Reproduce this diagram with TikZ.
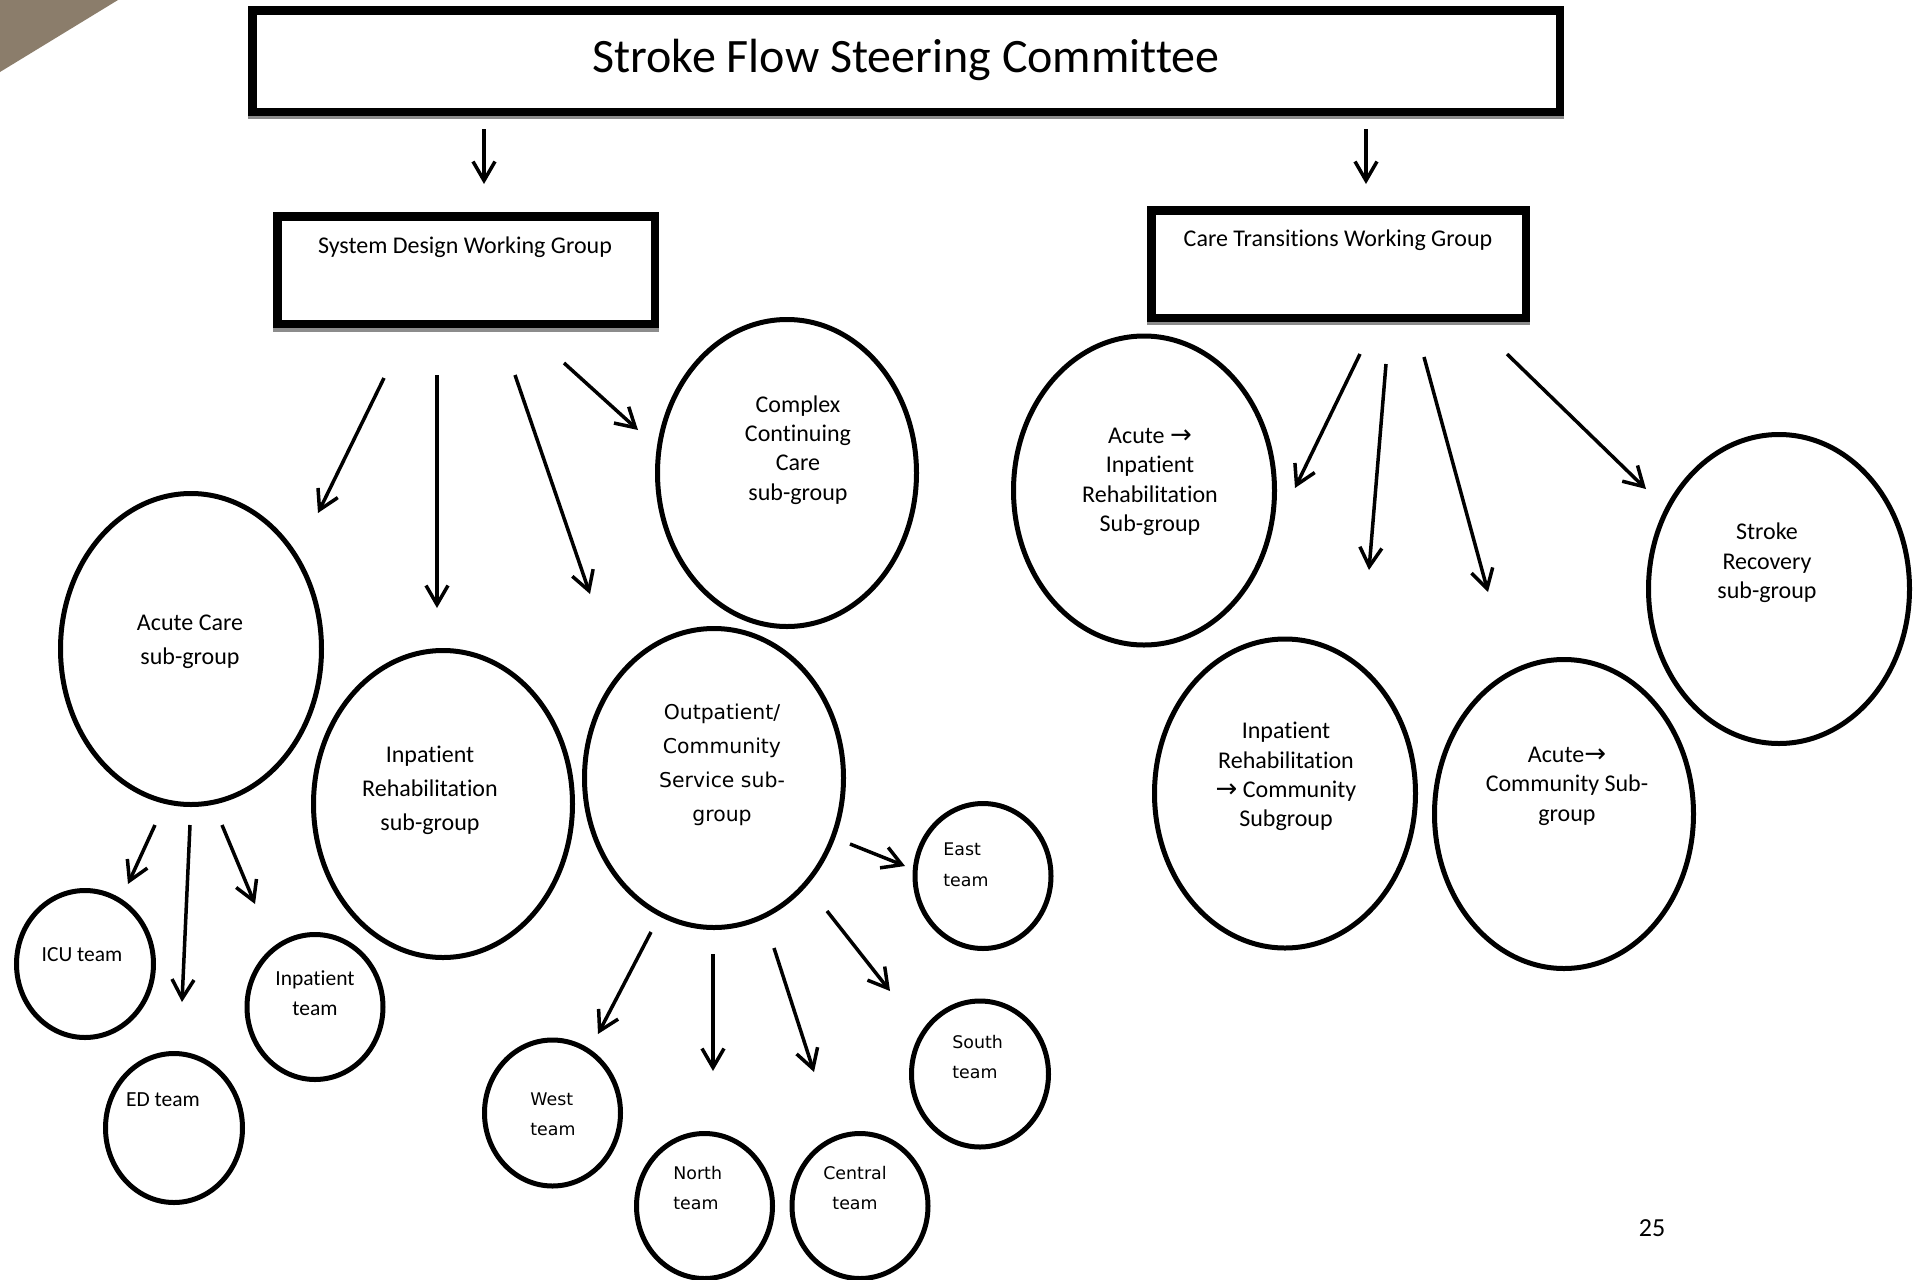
\documentclass[tikz,border=0pt]{standalone}
\usepackage{fontspec}
\setmainfont{Carlito}[Ligatures={NoCommon}]
\newfontfamily\verd{DejaVu Sans}
\usetikzlibrary{shapes.geometric,arrows.meta}
\begin{document}
\begin{tikzpicture}[x=0.5pt,y=-0.5pt,
  oval/.style 2 args={ellipse,draw,line width=2.5pt,inner sep=0pt,minimum width=#1pt,minimum height=#2pt},
  bigbox/.style 2 args={rectangle,draw,line width=4.25pt,inner sep=0pt,minimum width=#1pt,minimum height=#2pt},
  band/.style={fill=black!45,draw=none},
  lbl/.style={inner sep=0pt,yshift=-1.25pt,font=\fontsize{12}{14.7}\selectfont,align=center},
  lblwide/.style={inner sep=0pt,yshift=-1.25pt,font=\fontsize{12}{17}\selectfont,align=center},
  verdlbl/.style={inner sep=0pt,yshift=-1.25pt,font=\verd\fontsize{10.2}{17}\selectfont,align=center},
  teamlbl/.style={inner sep=0pt,yshift=-0.6pt,font=\fontsize{10.75}{15}\selectfont,align=center},
  vteam/.style={inner sep=0pt,yshift=-0.6pt,font=\verd\fontsize{8.7}{15.2}\selectfont,align=left},
  arrowglyph/.style={},
  arr/.style={line width=1.75pt,-{Straight Barb[length=9.5pt,width=11pt]}}
]
\newcommand{\rarr}{{\verd\fontsize{13}{14.7}\selectfont →}}
\useasboundingbox (0,0) rectangle (1923,1280);
\fill[white] (0,0) rectangle (1923,1280);
\clip (0,0) rectangle (1923,1280);

% corner decoration
\fill[fill={rgb,255:red,139;green,125;blue,107}] (0,0) -- (118,0) -- (0,72) -- cycle;

% boxes
\node[bigbox={653.75}{50.75}] (title) at (906,61) {};
\fill[band] (248,116) rectangle (1564,119);
\node[inner sep=0pt,yshift=-1.25pt,font=\fontsize{24}{28}\selectfont] (titletext) at (906,57) {Stroke Flow Steering Committee};

\node[bigbox={188.75}{53.75}] (sdwg) at (466,270) {};
\fill[band] (273,328) rectangle (659,332);
\node[lbl] (sdwgtext) at (465,245) {System Design Working Group};

\node[bigbox={187.25}{53.75}] (ctwg) at (1338.5,264) {};
\fill[band] (1147,322) rectangle (1530,325);
\node[lbl] (ctwgtext) at (1338,238) {Care Transitions Working Group};

% ellipses
\node[oval={130.5}{155.5}] (acute) at (191,649) {};
\node[oval={129.5}{153.5}] (inrehab) at (443,804) {};
\node[oval={129.5}{149.5}] (outpt) at (714,778) {};
\node[oval={129.5}{153.5}] (complex) at (787,473) {};
\node[oval={68.5}{73.5}] (icu) at (85,964) {};
\node[oval={68.5}{74.5}] (ed) at (174,1128) {};
\node[oval={68}{72.5}] (inteam) at (315,1007) {};
\node[oval={68}{73}] (west) at (552.5,1113) {};
\node[oval={68}{72.5}] (north) at (704.5,1206) {};
\node[oval={68}{72.5}] (central) at (860,1206) {};
\node[oval={68}{72.5}] (east) at (983,876) {};
\node[oval={68.5}{73}] (south) at (980,1074) {};
\node[oval={130.5}{154.5}] (airs) at (1144,490.5) {};
\node[oval={130.5}{154.5}] (ircs) at (1285,793.5) {};
\node[oval={129.5}{154.5}] (acs) at (1564,814) {};
\node[oval={130.5}{154.5}] (srs) at (1779,589) {};

% labels
\node[lblwide] (acutetext) at (190,639) {Acute Care\\sub-group};
\node[lblwide] (inrehabtext) at (430,788) {Inpatient\\Rehabilitation\\sub-group};
\node[verdlbl] (outpttext) at (722,762) {Outpatient/\\Community\\Service sub-\\group};
\node[lbl] (complextext) at (798,447.5) {Complex\\Continuing\\Care\\sub-group};
\node[teamlbl] (icutext) at (82,953) {ICU team};
\node[teamlbl] (edtext) at (163,1098) {ED team};
\node[teamlbl] (inteamtext) at (315,992) {Inpatient\\team};
\node[vteam,anchor=west] (westtext) at (530,1113) {West\\team};
\node[vteam,anchor=west] (northtext) at (673,1186.5) {North\\team};
\node[vteam,align=center] (centraltext) at (855,1186.5) {Central\\team};
\node[vteam,anchor=west] (easttext) at (943,863.5) {East\\team};
\node[vteam,anchor=west] (southtext) at (952,1056) {South\\team};
\node[lbl] (airstext) at (1150,479.5) {Acute \rarr\\Inpatient\\Rehabilitation\\Sub-group};
\node[lbl] (ircstext) at (1286,774) {Inpatient\\Rehabilitation\\\rarr{} Community\\Subgroup};
\node[lbl] (acstext) at (1567,783.5) {Acute\rarr\\Community Sub-\\group};
\node[lbl] (srstext) at (1767,560.5) {Stroke\\Recovery\\sub-group};
\node[inner sep=0pt,font=\fontsize{13}{15}\selectfont] (page) at (1652,1228) {25};

% arrow end points
\coordinate (t1s) at (484,129); \coordinate (t1e) at (484,184);
\coordinate (t2s) at (1366,129); \coordinate (t2e) at (1366,184);
\coordinate (a1s) at (384,378); \coordinate (a1e) at (318,513);
\coordinate (a2s) at (437,375); \coordinate (a2e) at (437,608);
\coordinate (a3s) at (515,375); \coordinate (a3e) at (590,594);
\coordinate (a4s) at (564,363); \coordinate (a4e) at (638,430);
\coordinate (b1s) at (155,825); \coordinate (b1e) at (128,884);
\coordinate (b2s) at (190,825); \coordinate (b2e) at (182,1002);
\coordinate (b3s) at (222,825); \coordinate (b3e) at (255,904);
\coordinate (c1s) at (651,932); \coordinate (c1e) at (598,1034);
\coordinate (c2s) at (713,954); \coordinate (c2e) at (713,1071);
\coordinate (c3s) at (774,948); \coordinate (c3e) at (814,1072);
\coordinate (c4s) at (827,911); \coordinate (c4e) at (890,991);
\coordinate (c5s) at (850,844); \coordinate (c5e) at (905,866);
\coordinate (d1s) at (1360,354); \coordinate (d1e) at (1295,488);
\coordinate (d2s) at (1386,364); \coordinate (d2e) at (1369,570);
\coordinate (d3s) at (1424,357); \coordinate (d3e) at (1488,592);
\coordinate (d4s) at (1507,354); \coordinate (d4e) at (1646,489);

\foreach \a in {t1,t2,a1,a2,a3,a4,b1,b2,b3,c1,c2,c3,c4,c5,d1,d2,d3,d4}
  \draw[arr] (\a s) -- (\a e);
\end{tikzpicture}
\end{document}
